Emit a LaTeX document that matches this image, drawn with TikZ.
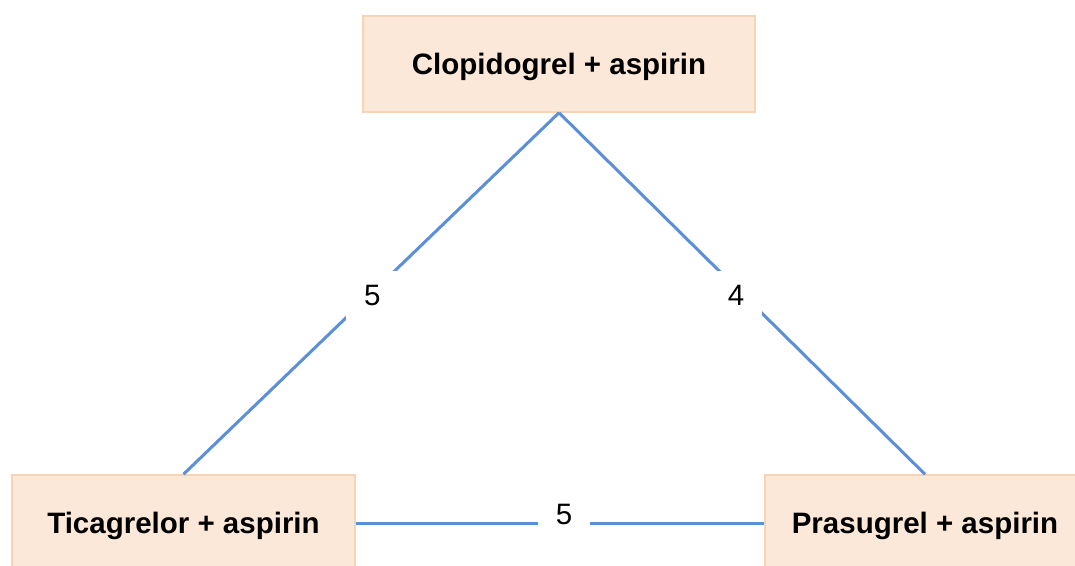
\documentclass[tikz,border=0pt]{standalone}
\usepackage{fontspec}
\setmainfont{Liberation Sans}
\definecolor{boxfill}{HTML}{FCE8D9}
\definecolor{boxdraw}{HTML}{F9D3B4}
\definecolor{edgeblue}{HTML}{5B8FD8}
\begin{document}
\begin{tikzpicture}[x=1pt,y=-1pt,
  drug/.style={draw=boxdraw, line width=1.5pt, fill=boxfill, minimum height=96pt,
    font=\fontsize{29.5}{33}\selectfont\bfseries, inner sep=0pt, text depth=0pt},
  link/.style={draw=edgeblue, line width=3pt},
  lbl/.style={fill=white, minimum width=52pt, minimum height=50pt, inner sep=0pt,
    font=\fontsize{29.5}{33}\selectfont}]
\useasboundingbox (0,0) rectangle (1075,565);
\clip (0,0) rectangle (1075,565);
\fill[white] (0,0) rectangle (1075,565);
\node[drug, minimum width=392pt] (C) at (559,64) {Clopidogrel + aspirin};
\node[drug, minimum width=343pt] (T) at (183.5,523) {Ticagrelor + aspirin};
\node[drug, minimum width=320pt] (P) at (925,523) {Prasugrel + aspirin};
\draw[link] (C.south) -- (T.north) node[lbl, pos=0.5, xshift=1pt, yshift=-2pt] (l1) {5};
\draw[link] (C.south) -- (P.north) node[lbl, pos=0.5, xshift=-6pt, yshift=-2pt] (l2) {4};
\draw[link] (T.east) -- (P.west) node[lbl, pos=0.51, yshift=9pt] (l3) {5};
\end{tikzpicture}
\end{document}
